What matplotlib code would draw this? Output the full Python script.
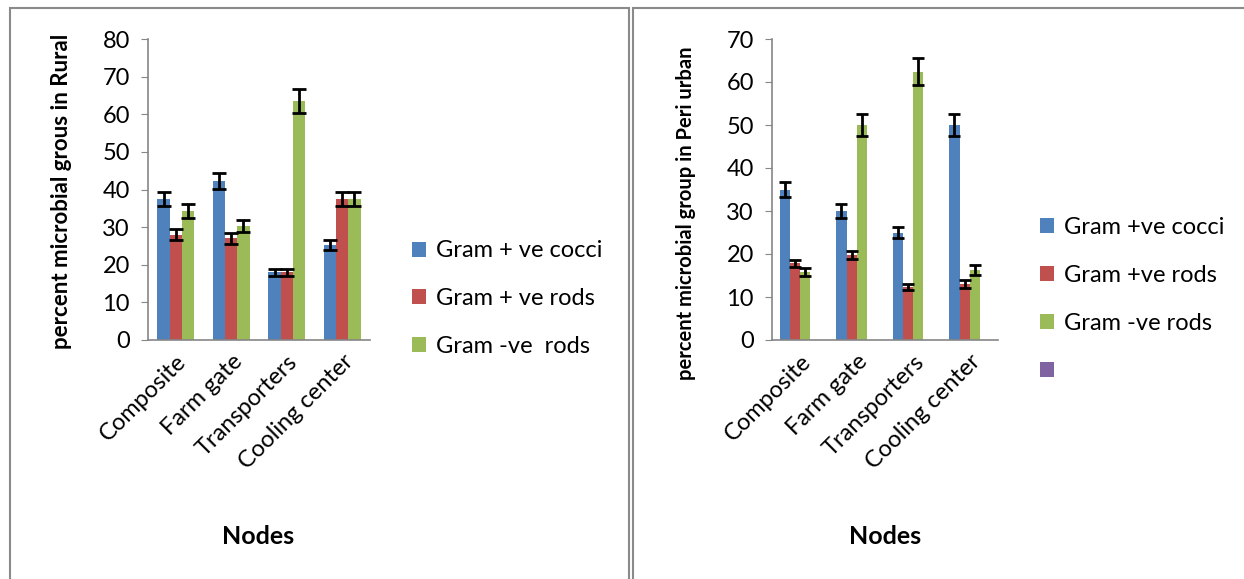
import numpy as np
import matplotlib.pyplot as plt
from matplotlib.patches import Rectangle

plt.rcParams['font.family'] = ['Lato', 'DejaVu Sans']

nodes = ['Composite', 'Farm gate', 'Transporters', 'Cooling center']

# rural panel
rural_cocci = [37.5, 42.3, 18.0, 25.3]
rural_pos_rods = [28.0, 27.0, 18.0, 37.5]
rural_neg_rods = [34.3, 30.3, 63.5, 37.5]
rural_cocci_err = [1.9, 2.2, 1.0, 1.4]
rural_pos_rods_err = [1.4, 1.5, 1.0, 1.9]
rural_neg_rods_err = [1.8, 1.5, 3.3, 1.9]

# peri urban panel
peri_cocci = [35.0, 30.0, 25.0, 50.0]
peri_pos_rods = [17.8, 19.8, 12.3, 13.0]
peri_neg_rods = [15.8, 50.0, 62.4, 16.3]
peri_cocci_err = [1.8, 1.6, 1.3, 2.5]
peri_pos_rods_err = [0.9, 1.0, 0.7, 0.9]
peri_neg_rods_err = [0.9, 2.5, 3.2, 1.1]

colors = ['#4F81BD', '#C0504D', '#9BBB59', '#8064A2']
W, H = 1244, 579


def px_axes(fig, x0, x1, y_top, y_bot):
    return fig.add_axes([x0 / W, (H - y_bot) / H, (x1 - x0) / W, (y_bot - y_top) / H])


def style(ax, ymax, step):
    for s in ['top', 'right']:
        ax.spines[s].set_visible(False)
    for s in ['left', 'bottom']:
        ax.spines[s].set_color('#868686')
        ax.spines[s].set_linewidth(1.2)
    ax.set_ylim(0, ymax)
    ax.set_yticks(np.arange(0, ymax + 1, step))
    ax.set_xlim(-0.5, 3.5)
    ax.set_xticks(np.arange(4))
    ax.set_xticklabels(nodes, rotation=45, ha='right', rotation_mode='anchor', fontsize=17)
    ax.tick_params(axis='x', length=0, pad=8)
    ax.tick_params(axis='y', labelsize=17, length=5, color='#868686', pad=8)


fig = plt.figure(figsize=(W / 100, H / 100), dpi=100)

# panel borders
fig.patches.append(Rectangle((10 / W, -0.01), 619 / W, (H - 8) / H + 0.01, transform=fig.transFigure,
                             fill=False, edgecolor='#8a8a8a', linewidth=1.5))
fig.patches.append(Rectangle((633 / W, -0.01), 620 / W, (H - 8) / H + 0.01, transform=fig.transFigure,
                             fill=False, edgecolor='#8a8a8a', linewidth=1.5))

err_kw = dict(ecolor='black', elinewidth=2, capthick=2)

# left chart
ax1 = px_axes(fig, 148, 370, 39, 340)
x = np.arange(4)
bw = 0.22
series1 = [(rural_cocci, rural_cocci_err, 'Gram + ve cocci'),
           (rural_pos_rods, rural_pos_rods_err, 'Gram + ve rods'),
           (rural_neg_rods, rural_neg_rods_err, 'Gram -ve  rods')]
for i, (vals, errs, lab) in enumerate(series1):
    ax1.bar(x + (i - 1) * bw, vals, bw, yerr=errs, color=colors[i], label=lab,
            capsize=4.7, error_kw=err_kw)
style(ax1, 80, 10)
ax1.legend(loc='center left', bbox_to_anchor=(1.093, 0.137), frameon=False, fontsize=17,
           handlelength=0.6, handleheight=0.6, labelspacing=1.14, handletextpad=0.4)
fig.text(62 / W, 1 - 191 / H, 'percent microbial grous in Rural', rotation=90, ha='center', va='center',
         fontsize=16, fontweight='bold')
fig.text(258 / W, 1 - 537 / H, 'Nodes', ha='center', va='center', fontsize=18, fontweight='bold')

# right chart
ax2 = px_axes(fig, 772, 998, 39, 340)
bw2 = 0.18
series2 = [(peri_cocci, peri_cocci_err, 'Gram +ve cocci'),
           (peri_pos_rods, peri_pos_rods_err, 'Gram +ve rods'),
           (peri_neg_rods, peri_neg_rods_err, 'Gram -ve rods')]
for i, (vals, errs, lab) in enumerate(series2):
    ax2.bar(x + (i - 1.5) * bw2, vals, bw2, yerr=errs, color=colors[i], label=lab,
            capsize=4.3, error_kw=err_kw)
ax2.bar(x + 1.5 * bw2, [0, 0, 0, 0], bw2, color=colors[3], label=' ')
style(ax2, 70, 10)
ax2.legend(loc='center left', bbox_to_anchor=(1.092, 0.135), frameon=False, fontsize=17,
           handlelength=0.6, handleheight=0.6, labelspacing=1.15, handletextpad=0.4)
fig.text(686 / W, 1 - 213 / H, 'percent microbial group in Peri urban', rotation=90, ha='center',
         va='center', fontsize=14.5, fontweight='bold')
fig.text(885 / W, 1 - 537 / H, 'Nodes', ha='center', va='center', fontsize=18, fontweight='bold')

fig.savefig('out.png', dpi=100)
